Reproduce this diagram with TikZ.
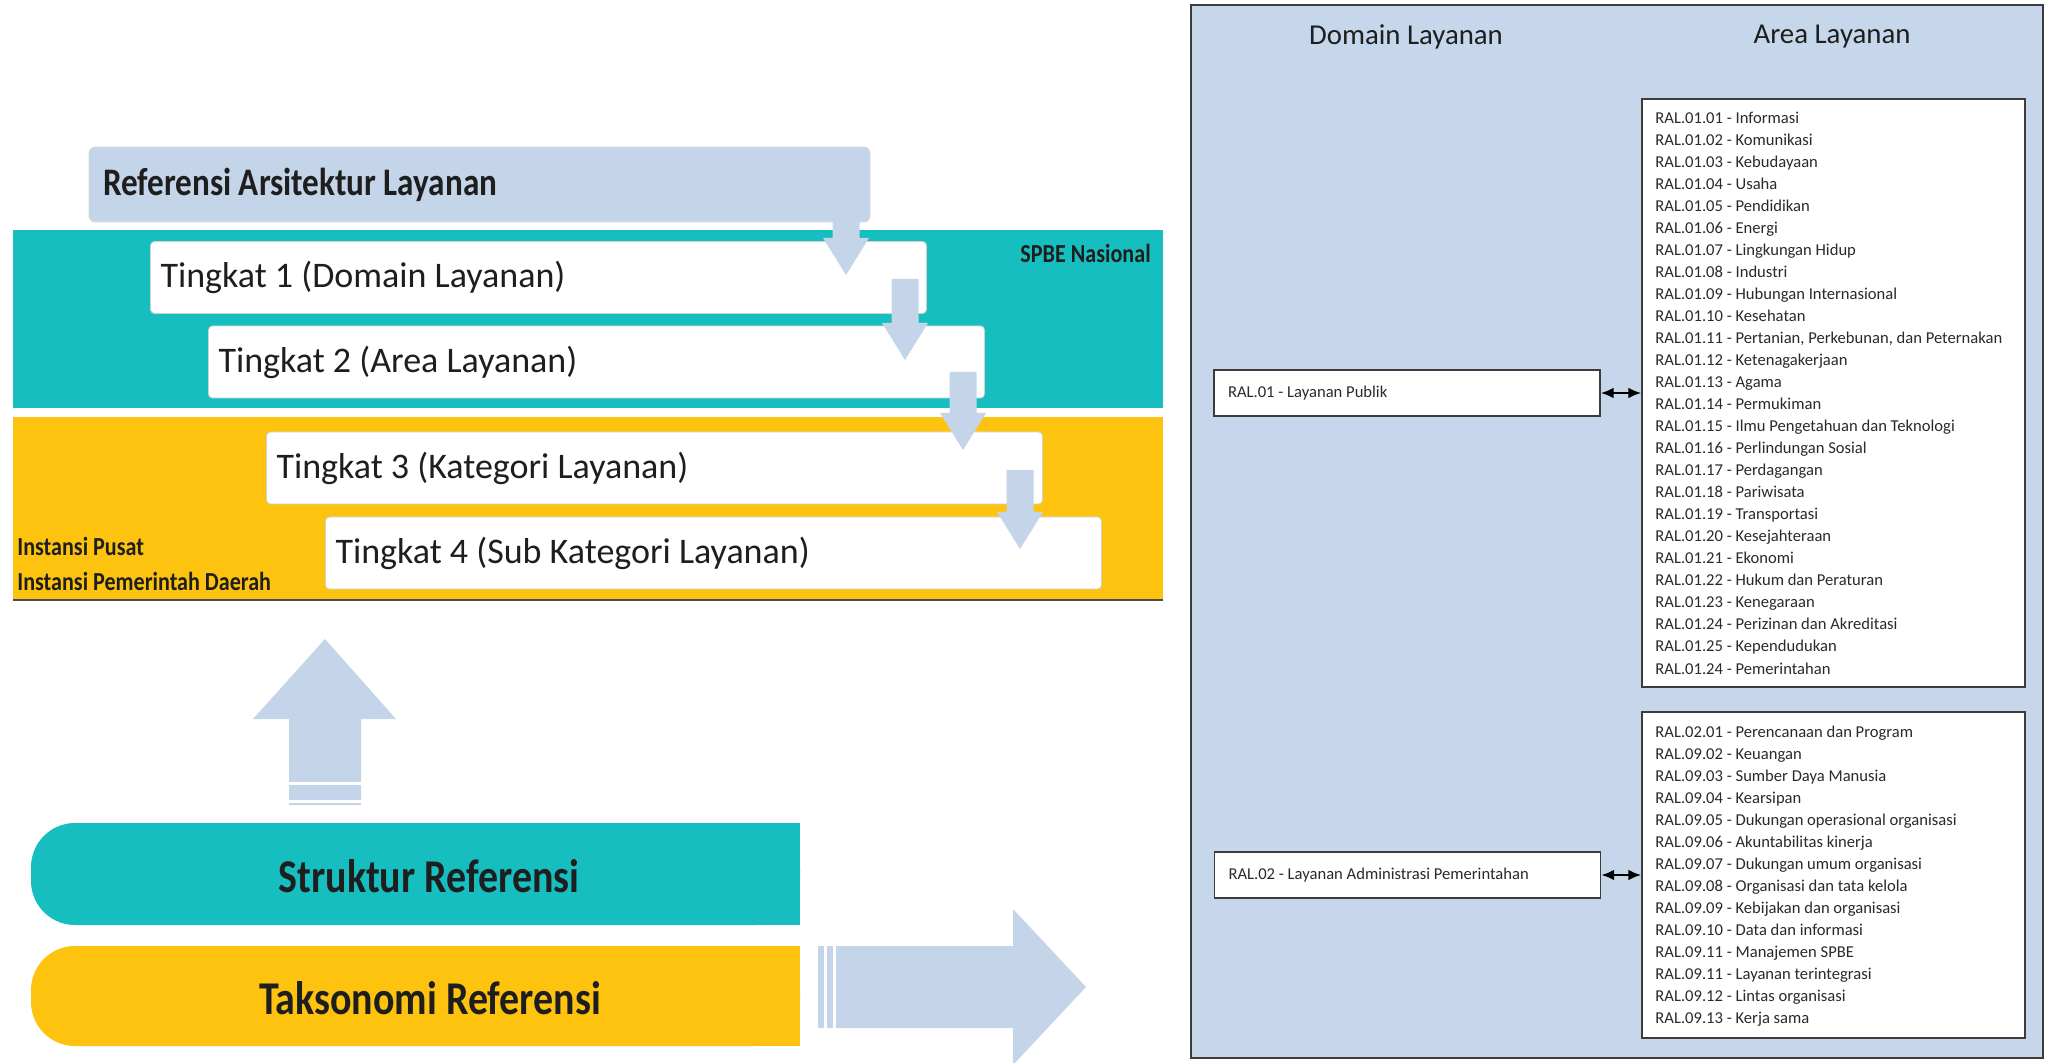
\documentclass[tikz,border=0pt]{standalone}
\usepackage{fontspec}
\setmainfont{Carlito}
\newfontfamily\condbf{Carlito}[FakeStretch=0.85]
\usetikzlibrary{arrows.meta}

\definecolor{spbeteal}{HTML}{16BEBF}
\definecolor{spbeyellow}{HTML}{FDC30F}
\definecolor{paleblue}{HTML}{C4D4E9}
\definecolor{panelblue}{HTML}{C6D6EB}
\definecolor{framegray}{HTML}{3C3C3C}
\definecolor{ink}{HTML}{1E1E1E}
\definecolor{listink}{HTML}{2A2A2A}

% block arrow pointing down: centre x, top y, tip y
\newcommand\blockdown[3]{%
  \fill[paleblue] (#1-13.5,#2) -- (#1+13.5,#2) -- (#1+13.5,#3-37) -- (#1+23,#3-37)
    -- (#1,#3) -- (#1-23,#3-37) -- (#1-13.5,#3-37) -- cycle;}

\tikzset{
  levelbox/.style={draw=black!18, line width=0.4pt, fill=white, rounded corners=2pt,
    minimum height=36pt, text width=378pt, inner xsep=5pt, align=flush left,
    font=\fontsize{18}{20}\selectfont, text=ink},
  titlebox/.style={draw=black!15, line width=0.4pt, fill=paleblue, rounded corners=3pt,
    minimum height=37.5pt, text width=376.5pt, inner xsep=7pt, align=flush left,
    font=\condbf\bfseries\fontsize{19.5}{22}\selectfont, text=ink},
  pilltext/.style={font=\condbf\bfseries\fontsize{23.5}{26}\selectfont, text=ink, inner sep=0pt},
  sidelabel/.style={font=\condbf\bfseries\fontsize{13}{17.5}\selectfont, text=ink, inner sep=0pt},
  header/.style={font=\fontsize{14.4}{16}\selectfont, text=ink, inner sep=0pt},
  dombox/.style={draw=framegray, line width=0.7pt, fill=white, minimum width=193pt,
    minimum height=23pt, text width=179pt, inner xsep=7pt, align=flush left,
    font=\fontsize{8.3}{10}\selectfont, text=listink},
  areabox/.style={draw=framegray, line width=0.7pt, fill=white, minimum width=191.5pt},
  listitem/.style={anchor=base west, inner sep=0pt, font=\fontsize{8.3}{10}\selectfont, text=listink},
  linkarrow/.style={{Latex[length=6.5pt,width=5.5pt]}-{Latex[length=6.5pt,width=5.5pt]}, line width=1.3pt, black}
}

\begin{document}
\begin{tikzpicture}[x=0.5pt, y=-0.5pt]
\useasboundingbox (0,0) rectangle (2045,1063);

% --- layered reference structure -------------------------------------
\fill[spbeteal] (13,230) rectangle (1163,408);
\fill[spbeyellow] (13,417) rectangle (1163,600);
\draw[black!70, line width=0.8pt] (13,600) -- (1163,600);

\node[titlebox] (ral) at (479.5,184.5) {Referensi Arsitektur Layanan};

\node[levelbox] (t1) at (538.5,277.5) {Tingkat 1 (Domain Layanan)};
\node[levelbox] (t2) at (596.5,362)   {Tingkat 2 (Area Layanan)};
\node[levelbox] (t3) at (654.5,468)   {Tingkat 3 (Kategori Layanan)};
\node[levelbox] (t4) at (713.5,553)   {Tingkat 4 (Sub Kategori Layanan)};

% downward block arrows linking the levels
\blockdown{846}{215}{275}
\blockdown{905}{279}{360}
\blockdown{963}{372}{450}
\blockdown{1020}{470}{549}

\node[sidelabel, anchor=east] (spbe) at (1151,253) {SPBE Nasional};
\node[sidelabel, anchor=west, align=flush left] (inst) at (17,564)
  {Instansi Pusat\\Instansi Pemerintah Daerah};

% --- upward arrow ----------------------------------------------------
\fill[paleblue] (325,639) -- (396,719) -- (361,719) -- (361,805) -- (289,805)
  -- (289,719) -- (253,719) -- cycle;
\draw[white, line width=1.5pt] (288,783) -- (362,783) (288,801) -- (362,801);

% --- structure / taxonomy bars ---------------------------------------
\fill[spbeteal, rounded corners=22pt] (31,823) rectangle (800,925);
\fill[spbeteal] (400,823) rectangle (800,925);
\node[pilltext] (struktur) at (429,876) {Struktur Referensi};

\fill[spbeyellow, rounded corners=22pt] (31,946) rectangle (800,1046);
\fill[spbeyellow] (400,946) rectangle (800,1046);
\node[pilltext] (taksonomi) at (430,998) {Taksonomi Referensi};

% --- rightward arrow -------------------------------------------------
\fill[paleblue] (818,946) -- (1013,946) -- (1013,909) -- (1086,987) -- (1013,1065)
  -- (1013,1028) -- (818,1028) -- cycle;
\draw[white, line width=1.5pt] (825,945) -- (825,1029) (834,945) -- (834,1029);

% --- domain / area panel ---------------------------------------------
\draw[framegray, fill=panelblue, line width=1pt] (1191,5) rectangle (2043,1058);
\node[header] (hdom) at (1406,37) {Domain Layanan};
\node[header] (harea) at (1832,37) {Area Layanan};

\node[dombox] (dom1) at (1407,393) {RAL.01 - Layanan Publik};
\node[dombox] (dom2) at (1407.5,875) {RAL.02 - Layanan Administrasi Pemerintahan};

\node[areabox, minimum height=294pt] (area1) at (1833.5,393) {};
\node[areabox, minimum height=163pt] (area2) at (1833.5,875) {};

\foreach \t [count=\i] in {
  RAL.01.01 - Informasi, RAL.01.02 - Komunikasi, RAL.01.03 - Kebudayaan,
  RAL.01.04 - Usaha, RAL.01.05 - Pendidikan, RAL.01.06 - Energi,
  RAL.01.07 - Lingkungan Hidup, RAL.01.08 - Industri,
  RAL.01.09 - Hubungan Internasional, RAL.01.10 - Kesehatan,
  {RAL.01.11 - Pertanian, Perkebunan, dan Peternakan},
  RAL.01.12 - Ketenagakerjaan, RAL.01.13 - Agama, RAL.01.14 - Permukiman,
  RAL.01.15 - Ilmu Pengetahuan dan Teknologi, RAL.01.16 - Perlindungan Sosial,
  RAL.01.17 - Perdagangan, RAL.01.18 - Pariwisata, RAL.01.19 - Transportasi,
  RAL.01.20 - Kesejahteraan, RAL.01.21 - Ekonomi,
  RAL.01.22 - Hukum dan Peraturan, RAL.01.23 - Kenegaraan,
  RAL.01.24 - Perizinan dan Akreditasi, RAL.01.25 - Kependudukan,
  RAL.01.24 - Pemerintahan}
  \node[listitem] (pub\i) at (1655,{124+22*(\i-1)}) {\t};

\foreach \t [count=\i] in {
  RAL.02.01 - Perencanaan dan Program, RAL.09.02 - Keuangan,
  RAL.09.03 - Sumber Daya Manusia, RAL.09.04 - Kearsipan,
  RAL.09.05 - Dukungan operasional organisasi, RAL.09.06 - Akuntabilitas kinerja,
  RAL.09.07 - Dukungan umum organisasi, RAL.09.08 - Organisasi dan tata kelola,
  RAL.09.09 - Kebijakan dan organisasi, RAL.09.10 - Data dan informasi,
  RAL.09.11 - Manajemen SPBE, RAL.09.11 - Layanan terintegrasi,
  RAL.09.12 - Lintas organisasi, RAL.09.13 - Kerja sama}
  \node[listitem] (adm\i) at (1655,{737+22*(\i-1)}) {\t};

\draw[linkarrow] (dom1.east) -- (dom1.east -| area1.west);
\draw[linkarrow] (dom2.east) -- (dom2.east -| area2.west);
\end{tikzpicture}
\end{document}
